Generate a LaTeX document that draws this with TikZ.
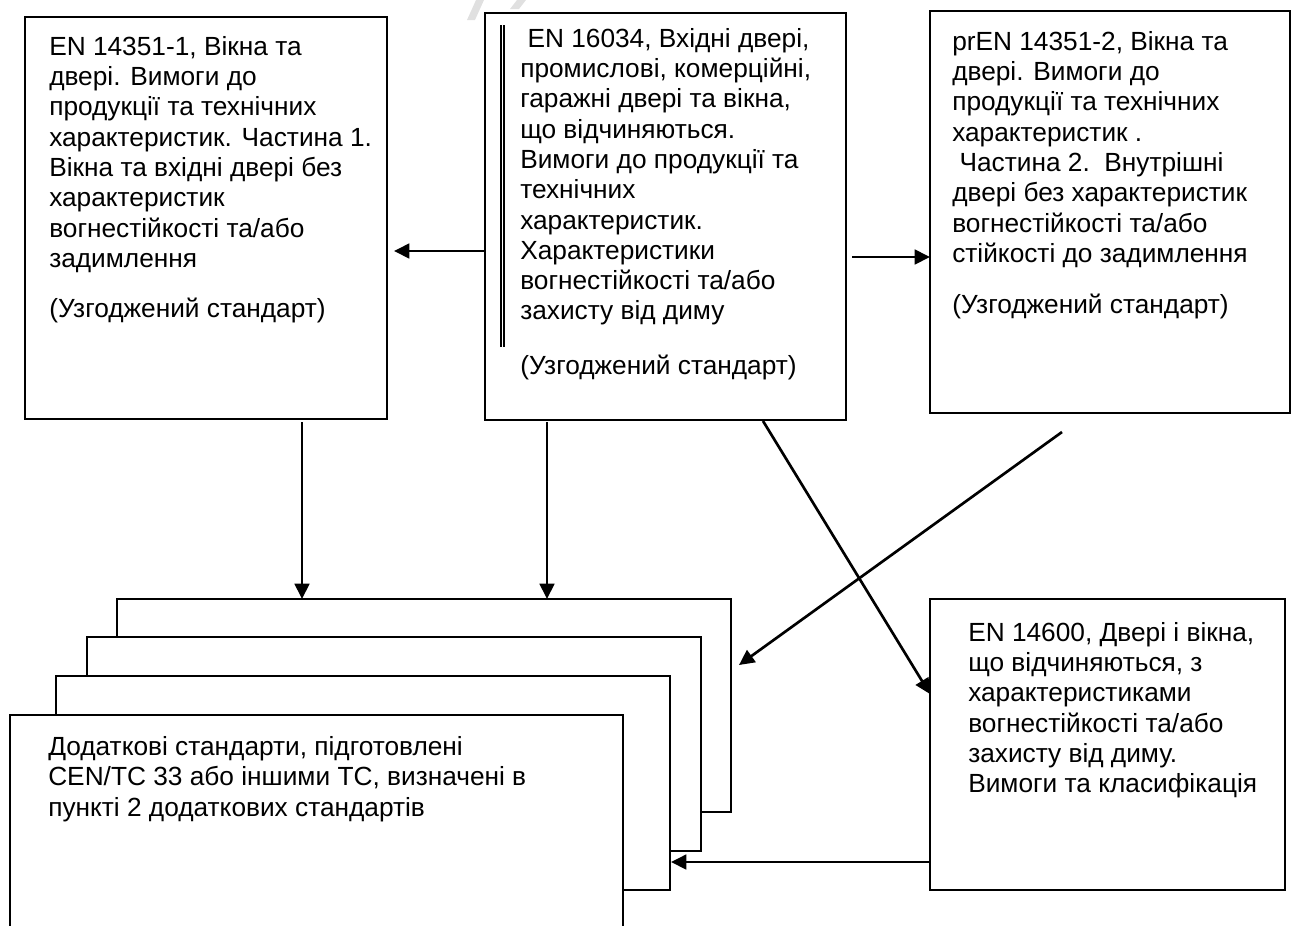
\documentclass[tikz,border=0pt]{standalone}
\usepackage{fontspec}
\setmainfont{Liberation Sans}
\usetikzlibrary{arrows.meta,fit}
\begin{document}
\begin{tikzpicture}[x=0.75pt,y=-0.75pt,
  box/.style={draw,line width=1.6pt,inner sep=0pt,fill=white},
  txt/.style={anchor=north west,inner sep=0pt,align=left,font=\fontsize{19.7pt}{22.7pt}\selectfont},
  arr/.style={line width=2pt,-{Triangle[length=11.5pt,width=11pt]}},
  wm/.style={fill=black!12,draw=none}]
\useasboundingbox (0,0) rectangle (1295,925);
% faint watermark fragments
\fill[wm] (476,0) -- (484,0) -- (475,20) -- (467,20) -- cycle;
\fill[wm] (517,0) -- (526,0) -- (519,9) -- (510,9) -- cycle;
% top boxes
\node[box,fit={(25,17)(387,419)}] (A) {};
\node[box,fit={(485,13)(846,420)}] (B) {};
\node[box,fit={(930,11)(1290,413)}] (C) {};
\node[box,fit={(930,599)(1285,890)}] (D) {};
% stacked boxes
\node[box,fit={(117,599)(731,812)}] (S1) {};
\node[box,fit={(87,637)(701,851)}] (S2) {};
\node[box,fit={(56,676)(670,890)}] (S3) {};
\node[box,fit={(10,715)(623,930)}] (S4) {};
% double bar in B
\coordinate (b1) at (501,25); \coordinate (b2) at (501,347);
\coordinate (b3) at (504,25); \coordinate (b4) at (504,347);
\draw[line width=0.9pt] (b1) -- (b2);
\draw[line width=0.9pt] (b3) -- (b4);
% texts
\node[txt] (tA) at (49,34) {\strut EN 14351-1, Вікна та\\двері. Вимоги до\\продукції та технічних\\характеристик. Частина 1.\\Вікна та вхідні двері без\\характеристик\\вогнестійкості та/або\\задимлення\\[14.8pt](Узгоджений стандарт)};
\node[txt] (tB) at (520,26) {\strut\ EN 16034, Вхідні двері,\\промислові, комерційні,\\гаражні двері та вікна,\\що відчиняються.\\Вимоги до продукції та\\технічних\\характеристик.\\Характеристики\\вогнестійкості та/або\\захисту від диму\\[18pt](Узгоджений стандарт)};
\node[txt] (tC) at (952,29) {\strut prEN 14351-2, Вікна та\\двері. Вимоги до\\продукції та технічних\\характеристик .\\\ Частина 2.\ \ Внутрішні\\двері без характеристик\\вогнестійкості та/або\\стійкості до задимлення\\[15.5pt](Узгоджений стандарт)};
\node[txt] (tD) at (968,620) {\strut EN 14600, Двері і вікна,\\що відчиняються, з\\характеристиками\\вогнестійкості та/або\\захисту від диму.\\Вимоги та класифікація};
\node[txt] (tS) at (48,734) {\strut Додаткові стандарти, підготовлені\\CEN/TC 33 або іншими TC, визначені в\\пункті 2 додаткових стандартів};
% arrows
\coordinate (a1) at (485,251); \coordinate (a1t) at (394,251);
\draw[arr] (a1) -- (a1t);
\coordinate (a2) at (852,257); \coordinate (a2t) at (930,257);
\draw[arr] (a2) -- (a2t);
\coordinate (a3) at (302,422); \coordinate (a3t) at (302,599);
\draw[arr] (a3) -- (a3t);
\coordinate (a4) at (547,422); \coordinate (a4t) at (547,599);
\draw[arr] (a4) -- (a4t);
\coordinate (a5) at (1062,432); \coordinate (a5t) at (739,665);
\draw[arr] (a5) -- (a5t);
\coordinate (a6) at (763,421); \coordinate (a6t) at (930,694);
\draw[arr] (a6) -- (a6t);
\coordinate (a7) at (930,862); \coordinate (a7t) at (671,862);
\draw[arr] (a7) -- (a7t);
\end{tikzpicture}
\end{document}
